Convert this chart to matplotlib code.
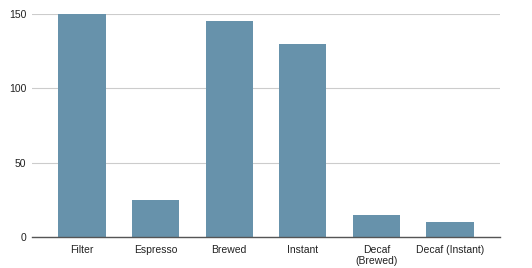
import numpy as np
import matplotlib.pyplot as plt

categories = ['Filter', 'Espresso', 'Brewed', 'Instant', 'Decaf\n(Brewed)', 'Decaf (Instant)']
values = [150, 25, 145, 130, 15, 10]
yticks = [0, 50, 100, 150]

fig = plt.figure(figsize=(5.32, 2.68), dpi=100)
ax = fig.add_axes([32 / 532, 31 / 268, 468 / 532, 223 / 268])

x = np.arange(len(categories))
ax.bar(x, values, width=0.64, color='#6792ab', zorder=3)

ax.set_xlim(-0.68, len(categories) - 1 + 0.68)
ax.set_ylim(0, 150)
ax.set_yticks(yticks)
ax.set_xticks(x)
ax.set_xticklabels(categories, fontsize=7.5, color='#222222', family='Liberation Sans', linespacing=1.1)
for lbl in ax.get_yticklabels():
    lbl.set_fontsize(7.5)
    lbl.set_family('Liberation Sans')
    lbl.set_color('#222222')

ax.grid(axis='y', color='#cccccc', linewidth=0.8, zorder=0)
ax.tick_params(axis='both', length=0)
ax.tick_params(axis='y', pad=4)
ax.tick_params(axis='x', pad=6)
for s in ['top', 'right', 'left']:
    ax.spines[s].set_visible(False)
ax.spines['bottom'].set_color('#555555')
ax.spines['bottom'].set_linewidth(1)
ax.spines['bottom'].set_zorder(4)

fig.savefig('out.png', dpi=100)
